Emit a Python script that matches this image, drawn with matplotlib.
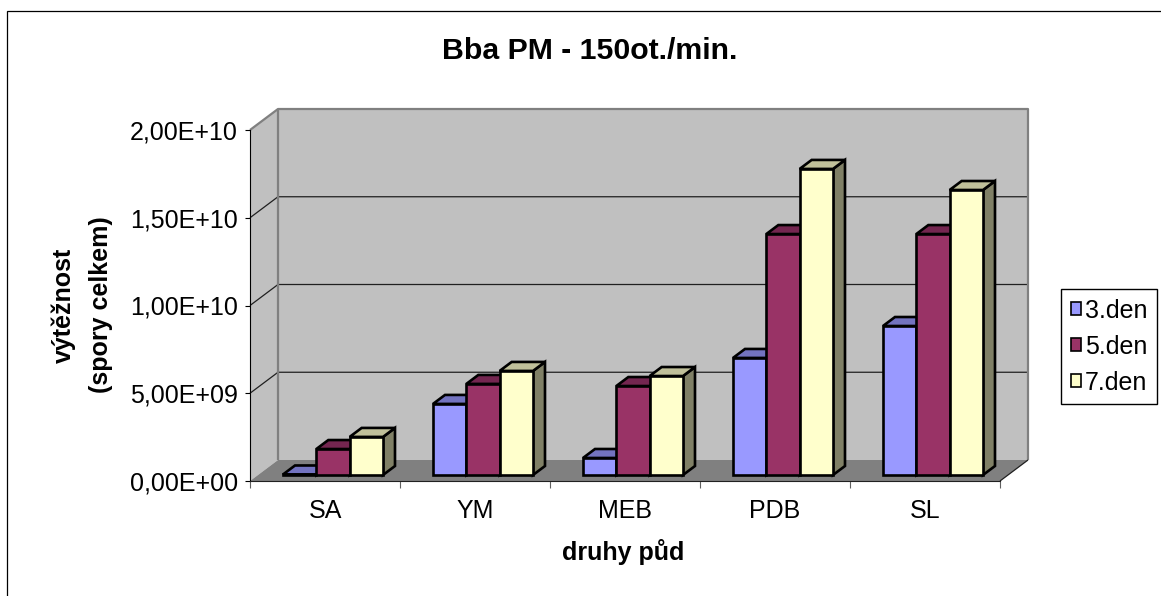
import matplotlib
matplotlib.use("Agg")
import matplotlib.pyplot as plt
import numpy as np
from matplotlib.patches import Polygon, Rectangle, Patch
from matplotlib.lines import Line2D
from matplotlib.transforms import IdentityTransform
from matplotlib.ticker import FuncFormatter, FixedLocator

# data
categories = ["SA", "YM", "MEB", "PDB", "SL"]
series_names = ["3.den", "5.den", "7.den"]
den3 = [0.03e9, 4.05e9, 0.97e9, 6.67e9, 8.49e9]
den5 = [1.48e9, 5.19e9, 5.07e9, 13.73e9, 13.73e9]
den7 = [2.17e9, 5.93e9, 5.64e9, 17.44e9, 16.24e9]
y_ticks = [0, 5e9, 1e10, 1.5e10, 2e10]

front_colors = ["#9999FF", "#993366", "#FFFFCC"]
top_colors = ["#7373C0", "#742650", "#C0C09A"]
side_colors = ["#6B6BB3", "#6B2447", "#808066"]

plt.rcParams['font.family'] = ['Liberation Sans', 'DejaVu Sans']
FS = 18

W, H = 1161, 596
fig = plt.figure(figsize=(W / 100, H / 100), dpi=100)
ax = fig.add_axes([250 / W, 1 - 481 / H, 750 / W, 351 / H], zorder=5)
ax.set_xlim(-0.5, 4.5)
ax.set_ylim(0, 2e10)
ax.patch.set_visible(False)

DEPTH = np.array([28.0, 21.0])   # pixel shift from front plane to back wall
BF, BB = 0.286, 0.714           # bar front / back as fraction of depth


def proj(x, y, d):
    return ax.transData.transform((x, y)) + d * DEPTH


def poly(pts, fc, ec="none", lw=0, z=1):
    p = Polygon(np.array(pts), closed=True, fc=fc, ec=ec, lw=lw,
                transform=IdentityTransform(), zorder=z, joinstyle="miter")
    fig.add_artist(p)


def line(pts, color, lw, z=2):
    pts = np.array(pts)
    fig.add_artist(Line2D(pts[:, 0], pts[:, 1], color=color, lw=lw,
                          transform=IdentityTransform(), zorder=z,
                          solid_capstyle="butt"))


x0, x1 = -0.5, 4.5
ytop = y_ticks[-1]

# walls and floor
poly([proj(x0, 0, 0), proj(x0, ytop, 0), proj(x0, ytop, 1), proj(x0, 0, 1)], "#C0C0C0")
poly([proj(x0, 0, 1), proj(x0, ytop, 1), proj(x1, ytop, 1), proj(x1, 0, 1)], "#C0C0C0")
poly([proj(x0, 0, 0), proj(x1, 0, 0), proj(x1, 0, 1), proj(x0, 0, 1)], "#808080")

for v in y_ticks[1:-1]:
    line([proj(x0, v, 0), proj(x0, v, 1), proj(x1, v, 1)], "#202020", 0.9)

line([proj(x0, ytop, 0), proj(x0, ytop, 1), proj(x1, ytop, 1), proj(x1, 0, 1)], "#808080", 1.6)
line([proj(x0, ytop, 1), proj(x0, 0, 1)], "#808080", 1.6)
line([proj(x1, 0, 0), proj(x1, 0, 1)], "#202020", 0.9)

# bars
series = [den3, den5, den7]
bw = 2 / 9
for i in range(len(categories)):
    for j, vals in enumerate(series):
        v = vals[i]
        a = i - 1 / 3 + j * bw
        b = a + bw
        poly([proj(b, 0, BF), proj(b, v, BF), proj(b, v, BB), proj(b, 0, BB)],
             side_colors[j], "black", 1.9, 3)
        poly([proj(a, v, BF), proj(b, v, BF), proj(b, v, BB), proj(a, v, BB)],
             top_colors[j], "black", 1.9, 3)
        poly([proj(a, 0, BF), proj(b, 0, BF), proj(b, v, BF), proj(a, v, BF)],
             front_colors[j], "black", 1.9, 3)

# axes
for s in ["top", "right"]:
    ax.spines[s].set_visible(False)
ax.spines["left"].set_color("black")
ax.spines["bottom"].set_color("#202020")
ax.yaxis.set_major_locator(FixedLocator(y_ticks))
ax.yaxis.set_major_formatter(FuncFormatter(lambda v, p: f"{v:.2E}".replace(".", ",")))
ax.tick_params(axis="y", direction="out", length=3.6, width=0.8, pad=5, labelsize=FS)
ax.xaxis.set_major_locator(FixedLocator(np.arange(-0.5, 5, 1)))
ax.xaxis.set_minor_locator(FixedLocator(range(len(categories))))
ax.set_xticklabels([], minor=False)
ax.set_xticklabels(categories, minor=True)
ax.tick_params(axis="x", which="major", direction="out", length=5, width=0.8, color="#606060")
ax.tick_params(axis="x", which="minor", length=0, pad=13, labelsize=FS)

fig.text(590 / W, 1 - 59 / H, "Bba PM - 150ot./min.", ha="center", va="baseline",
         fontsize=21.8, fontweight="bold")
fig.text(623 / W, 1 - 560 / H, "druhy půd", ha="center", va="baseline",
         fontsize=FS, fontweight="bold")
fig.text(82 / W, 1 - 305 / H, "výtěžnost\n(spory celkem)", ha="center", va="center",
         rotation=90, fontsize=FS, fontweight="bold", multialignment="center",
         linespacing=1.7)

handles = [Patch(fc=c, ec="black", lw=1.2) for c in front_colors]
leg = fig.legend(handles, series_names, loc="upper left",
                 bbox_to_anchor=(1061 / W, 1 - 289 / H), borderaxespad=0,
                 fontsize=FS, frameon=True, fancybox=False, framealpha=1,
                 edgecolor="black", handlelength=0.42, handleheight=0.42,
                 handletextpad=0.15, labelspacing=0.48, borderpad=0.38)
leg.get_frame().set_linewidth(1)

# outer chart frame
fig.add_artist(Rectangle((7 / W, -0.1), 1.2, 1.1 - 11 / H, transform=fig.transFigure,
                         fill=False, ec="black", lw=0.9, zorder=0))

fig.savefig("out.png", dpi=100)
